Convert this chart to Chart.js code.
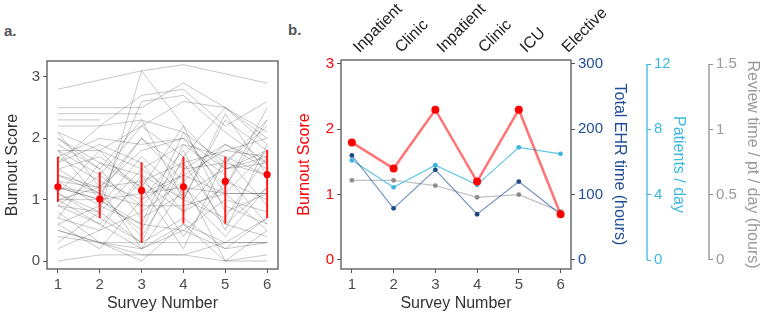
<!DOCTYPE html>
<html><head><meta charset="utf-8">
<script src="https://cdn.jsdelivr.net/npm/chart.js@4.4.1/dist/chart.umd.min.js"></script>
<style>
html,body{margin:0;padding:0;background:#fff;width:762px;height:314px;overflow:hidden;font-family:'Liberation Sans',Arial,sans-serif}
#wa{position:absolute;left:0;top:0;width:282px;height:314px}
#wb{position:absolute;left:282px;top:0;width:480px;height:314px}
.pl{position:absolute;font-weight:bold;font-size:15px;color:#555;line-height:15px}
</style></head><body>
<div class="pl" style="left:4px;top:23px">a.</div>
<div class="pl" style="left:288px;top:22px">b.</div>
<div id="wa"><canvas id="ca" width="282" height="314"></canvas></div>
<div id="wb"><canvas id="cb" width="480" height="314"></canvas></div>
<script>
// ---------- data ----------
const surveys = [1, 2, 3, 4, 5, 6];
const participantScores = [
  [2.8, 2.95, 3.1, 3.2, 3.05, 2.9],
  [2.5, 2.5, 2.5, 2.9, 2.5, 2.1],
  [2.4, 2.4, 2.4, null, null, null],
  [2.3, 2.3, null, null, null, null],
  [2.2, 2.2, 2.7, 2.8, 2.2, 2.6],
  [2.1, 1.8, 2.2, 2.6, 2.5, 1.9],
  [2.0, 1.5, 2.3, 2.1, 1.6, 2.3],
  [0.9, 0.8, 3.1, 2.2, 1.5, 1.8],
  [1.8, 1.8, 1.5, 1.9, 1.7, 1.4],
  [1.8, 1.4, 2.2, 1.7, 2.5, 2.0],
  [1.6, 2.2, 2.3, 1.0, 0.7, 1.7],
  [1.5, 1.1, 2.0, 1.3, 1.9, 1.6],
  [1.4, 1.2, 1.8, 2.0, 1.2, 2.5],
  [1.3, 0.9, 0.6, 2.1, 1.1, 0.5],
  [1.2, 1.0, 1.1, 1.2, 1.1, 1.1],
  [1.2, 1.1, 0.4, 1.5, 1.6, 1.4],
  [1.1, 0.8, 1.5, 1.0, 2.3, 1.8],
  [1.0, 1.2, 0.2, 0.6, 0.3, 0.7],
  [1.0, 0.6, 1.3, 0.8, 1.6, 2.2],
  [0.9, 1.4, 0.9, 1.6, 0.6, 1.2],
  [0.8, 0.3, 0.1, 0.1, 0.3, 0.3],
  [0.7, 1.6, 1.2, 0.2, 1.7, 0.9],
  [0.6, 0.2, 1.0, 1.8, 0.5, 1.9],
  [0.5, 0.3, 0.2, 0.5, 0.2, 0.3],
  [0.4, 0.3, 0.0, 0.6, 0.0, 0.1],
  [0.3, 0.8, 0.3, 1.7, 0.9, 0.6],
  [0.2, 0.5, 1.4, 0.4, 1.3, 1.0],
  [0.0, 0.1, 0.1, 0.1, 0.0, 0.0],
  [1.7, 1.3, 1.0, 1.4, 1.8, 1.7],
  [1.9, 1.5, 0.7, 1.1, 1.5, 1.6],
  [1.6, 1.9, 1.6, 0.8, 1.2, 2.3],
  [1.1, 0.7, 0.3, 0.7, 0.2, 0.7],
  [1.3, 1.2, 2.0, 1.5, 1.9, 1.5],
  [1.5, 1.7, 1.2, 2.2, 0.8, 1.1],
  [0.5, 0.3, 0.3, 0.3, 0.3, 0.3],
  [1.0, 1.0, 0.5, 1.9, 1.4, 0.6],
  [2.0, 1.6, 1.4, 1.0, 2.4, 1.4],
  [1.4, 1.1, 0.9, 0.9, 1.1, 1.8],
  [0.9, 0.6, 0.2, 1.2, 0.6, 0.4],
  [1.7, 2.0, 1.9, 2.0, 1.5, 1.7],
  [0.6, 0.9, 1.7, 1.1, 0.4, 1.2],
  [1.2, 1.0, 0.6, 0.5, 1.0, 0.8],
  [2.1, 1.2, 1.3, 1.6, 1.8, 2.0],
  [0.7, 0.5, 0.8, 1.3, 0.0, 0.5],
  [1.8, 1.0, 2.6, 2.7, 2.1, 1.6],
  [1.1, 1.8, 1.1, 1.4, 1.1, 1.1]
];
const meanBurnout = [1.21, 1.01, 1.15, 1.21, 1.30, 1.41];
const errLow  = [0.96, 0.70, 0.30, 0.61, 0.61, 0.70];
const errHigh = [1.70, 1.45, 1.61, 1.70, 1.70, 1.81];

const rotationLabels = ['Inpatient', 'Clinic', 'Inpatient', 'Clinic', 'ICU', 'Elective'];
const burnoutB = [1.8, 1.4, 2.3, 1.2, 2.3, 0.7];
const ehrHours = [160, 79, 138, 70, 120, 70];
const patientsPerDay = [6.1, 4.45, 5.8, 4.6, 6.9, 6.5];
const reviewTime = [0.61, 0.61, 0.57, 0.48, 0.50, 0.37];

const burnoutTicks = [0, 1, 2, 3];
const ehrTicks = [0, 100, 200, 300];
const patientTicks = [0, 4, 8, 12];
const reviewTicks = [0, 0.5, 1, 1.5];

// ---------- helpers ----------
Chart.defaults.font.family = "'Liberation Sans', Arial, Helvetica, sans-serif";
Chart.defaults.animation = false;

function fixTicks(vals) { return s => { s.ticks = vals.map(v => ({ value: v })); }; }
function fixWidth(w) { return s => { s.width = w; s.paddingTop = 0; s.paddingBottom = 0; }; }
function fixHeight(h) { return s => { s.height = h; s.paddingLeft = 0; s.paddingRight = 0; }; }
function pts(vals) { return vals.map((v, i) => ({ x: surveys[i], y: v })); }
function tickGrid(color) { return { drawOnChartArea: false, drawTicks: true, tickLength: 4, tickColor: color, lineWidth: 1 }; }

const boxPlugin = {
  id: 'box',
  afterDatasetsDraw(chart) {
    const a = chart.chartArea, c = chart.ctx;
    c.save();
    c.strokeStyle = '#555';
    c.lineWidth = 1.3;
    c.strokeRect(a.left, a.top, a.right - a.left, a.bottom - a.top);
    c.restore();
  }
};

const axisLinePlugin = {
  id: 'axisLines',
  afterDraw(chart) {
    const c = chart.ctx;
    [['yP', '#3cb9e2'], ['yR', '#8f8f8f']].forEach(([id, col]) => {
      const s = chart.scales[id];
      const vals = s.ticks.map(t => t.value);
      const y0 = s.getPixelForValue(Math.min(...vals));
      const y1 = s.getPixelForValue(Math.max(...vals));
      c.save();
      c.strokeStyle = col;
      c.lineWidth = 1.3;
      c.beginPath();
      c.moveTo(s.left, y0);
      c.lineTo(s.left, y1);
      c.stroke();
      c.restore();
    });
  }
};

// ---------- panel a ----------
const errorBarPoints = [];
surveys.forEach((s, i) => {
  errorBarPoints.push({ x: s, y: errLow[i] }, { x: s, y: errHigh[i] }, { x: s, y: null });
});

new Chart(document.getElementById('ca'), {
  type: 'line',
  data: {
    datasets: [
      { data: pts(meanBurnout), showLine: false, pointRadius: 3.6, pointBackgroundColor: '#ff0000', pointBorderWidth: 0 },
      { data: errorBarPoints, borderColor: '#ff1a1a', borderWidth: 2, pointRadius: 0, spanGaps: false },
      ...participantScores.map(p => ({ data: pts(p), borderColor: 'rgba(0,0,0,0.22)', borderWidth: 1, pointRadius: 0, spanGaps: false }))
    ]
  },
  options: {
    responsive: false, animation: false, devicePixelRatio: 1,
    layout: { padding: { top: 61, right: 3, left: 0, bottom: 0 } },
    plugins: { legend: { display: false }, tooltip: { enabled: false } },
    scales: {
      x: {
        type: 'linear', min: 0.74, max: 6.26,
        afterBuildTicks: fixTicks(surveys), afterFit: fixHeight(45),
        border: { display: false }, grid: tickGrid('#555'),
        ticks: { color: '#4d4d4d', font: { size: 15 }, padding: 3, callback: v => String(v) },
        title: { display: true, text: 'Survey Number', color: '#333', font: { size: 16 }, padding: { top: 0, bottom: 1 } }
      },
      y: {
        type: 'linear', min: -0.13, max: 3.26,
        afterBuildTicks: fixTicks(burnoutTicks), afterFit: fixWidth(47),
        border: { display: false }, grid: tickGrid('#555'),
        ticks: { color: '#4d4d4d', font: { size: 15 }, padding: 3, callback: v => String(v) },
        title: { display: true, text: 'Burnout Score', color: '#333', font: { size: 16 }, padding: { top: 3, bottom: 0 } }
      }
    }
  },
  plugins: [boxPlugin]
});

// ---------- panel b ----------
new Chart(document.getElementById('cb'), {
  type: 'line',
  data: {
    datasets: [
      { data: pts(burnoutB), yAxisID: 'yB', borderColor: 'rgba(255,0,0,0.55)', borderWidth: 2.5, pointRadius: 4, pointBackgroundColor: '#ff0000', pointBorderWidth: 0 },
      { data: pts(ehrHours), yAxisID: 'yE', borderColor: 'rgba(30,80,150,0.6)', borderWidth: 1.2, pointRadius: 2.4, pointBackgroundColor: '#1a4a8a', pointBorderWidth: 0 },
      { data: pts(patientsPerDay), yAxisID: 'yP', borderColor: '#62c7ea', borderWidth: 1.2, pointRadius: 2.4, pointBackgroundColor: '#3bb5e0', pointBorderWidth: 0 },
      { data: pts(reviewTime), yAxisID: 'yR', borderColor: '#c0c0c0', borderWidth: 1.2, pointRadius: 2.4, pointBackgroundColor: '#8c8c8c', pointBorderWidth: 0 }
    ]
  },
  options: {
    responsive: false, animation: false, devicePixelRatio: 1,
    layout: { padding: 0 },
    plugins: { legend: { display: false }, tooltip: { enabled: false } },
    scales: {
      x: {
        type: 'linear', position: 'bottom', min: 0.74, max: 6.25,
        afterBuildTicks: fixTicks(surveys), afterFit: fixHeight(45),
        border: { display: false }, grid: tickGrid('#555'),
        ticks: { color: '#4d4d4d', font: { size: 15 }, padding: 3, callback: v => String(v) },
        title: { display: true, text: 'Survey Number', color: '#333', font: { size: 16 }, padding: { top: 0, bottom: 1 } }
      },
      xTop: {
        type: 'linear', position: 'top', min: 0.74, max: 6.25,
        afterBuildTicks: fixTicks(surveys), afterFit: fixHeight(60),
        border: { display: false }, grid: { display: false, drawTicks: false },
        ticks: { color: '#222', font: { size: 16 }, padding: 3, labelOffset: 18, minRotation: 45, maxRotation: 45, autoSkip: false,
                 callback: v => rotationLabels[surveys.indexOf(v)] }
      },
      yB: {
        type: 'linear', position: 'left', min: -0.138, max: 3.061,
        afterBuildTicks: fixTicks(burnoutTicks), afterFit: fixWidth(59),
        border: { display: false }, grid: tickGrid('#555'),
        ticks: { color: '#ff0000', font: { size: 15 }, padding: 3, callback: v => String(v) },
        title: { display: true, text: 'Burnout Score', color: '#ff0000', font: { size: 16 }, padding: { top: 13, bottom: 0 } }
      },
      yE: {
        type: 'linear', position: 'right', weight: 0, min: -13.8, max: 306.1,
        afterBuildTicks: fixTicks(ehrTicks), afterFit: fixWidth(76),
        border: { display: false }, grid: tickGrid('#555'),
        ticks: { color: '#1f4e96', font: { size: 15 }, padding: 3, callback: v => String(v) },
        title: { display: true, text: 'Total EHR time (hours)', color: '#1f4e96', font: { size: 16 }, padding: { top: 18, bottom: 0 } }
      },
      yP: {
        type: 'linear', position: 'right', weight: 1, min: -0.551, max: 12.245,
        afterBuildTicks: fixTicks(patientTicks), afterFit: fixWidth(62),
        border: { display: false }, grid: tickGrid('#3cb9e2'),
        ticks: { color: '#3cb9e2', font: { size: 15 }, padding: 3, callback: v => String(v) },
        title: { display: true, text: 'Patients / day', color: '#3cb9e2', font: { size: 16 }, padding: { top: 21, bottom: 0 } }
      },
      yR: {
        type: 'linear', position: 'right', weight: 2, min: -0.069, max: 1.531,
        afterBuildTicks: fixTicks(reviewTicks), afterFit: fixWidth(53),
        border: { display: false }, grid: tickGrid('#8f8f8f'),
        ticks: { color: '#9a9a9a', font: { size: 15 }, padding: 3, callback: v => String(v) },
        title: { display: true, text: 'Review time / pt / day (hours)', color: '#9a9a9a', font: { size: 16 }, padding: { top: 0, bottom: 0 } }
      }
    }
  },
  plugins: [boxPlugin, axisLinePlugin]
});
</script>
</body></html>
